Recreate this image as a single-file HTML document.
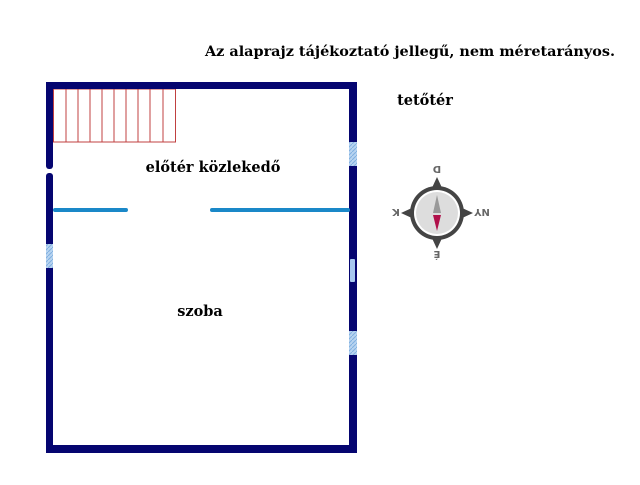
<!DOCTYPE html>
<html><head><style>body{margin:0;background:#fff}</style></head><body>
<svg width="640" height="480" xmlns="http://www.w3.org/2000/svg" font-family="DejaVu Serif, serif" font-weight="bold">
<defs><pattern id="h" width="4" height="4" patternUnits="userSpaceOnUse"><rect width="4" height="4" fill="#b8d4f0"/><path d="M0 4L4 0" stroke="#7fb0e0" stroke-width="1"/></pattern></defs>
<text x="410" y="56" font-size="14" text-anchor="middle" textLength="410" lengthAdjust="spacingAndGlyphs">Az alaprajz tájékoztató jellegű, nem méretarányos.</text>
<text x="425" y="105" font-size="14.5" text-anchor="middle">tetőtér</text>
<text x="213" y="172" font-size="14.5" text-anchor="middle">előtér közlekedő</text>
<text x="200" y="316" font-size="14.5" text-anchor="middle">szoba</text>
<g stroke="#c04040" stroke-width="1" fill="none">
<rect x="53.5" y="89" width="122" height="53"/>
<path d="M66 89V142M78 89V142M90 89V142M102 89V142M114 89V142M126 89V142M138 89V142M150 89V142M163 89V142"/>
</g>
<g fill="#050570">
<rect x="46" y="82" width="311" height="7"/>
<rect x="46" y="82" width="7" height="87" rx="3"/>
<rect x="46" y="173" width="7" height="280" rx="3"/>
<rect x="349" y="82" width="8" height="371"/>
<rect x="46" y="445" width="311" height="8"/>
</g>
<rect x="349" y="142" width="8" height="24" fill="url(#h)"/>
<rect x="46" y="244" width="7" height="24" fill="url(#h)"/>
<rect x="349" y="331" width="8" height="24" fill="url(#h)"/>
<rect x="350" y="259" width="5" height="23" rx="1" fill="#a8c8f0"/>
<g stroke="#1a88c8" stroke-width="4" stroke-linecap="round">
<line x1="55" y1="210" x2="126" y2="210"/><line x1="212" y1="210" x2="348" y2="210"/>
</g>
<g>
<polygon points="437,177 443,190 431,190" fill="#444"/>
<polygon points="437,249 443,236 431,236" fill="#444"/>
<polygon points="401,213 414,207 414,219" fill="#444"/>
<polygon points="473,213 460,207 460,219" fill="#444"/>
<circle cx="437" cy="213" r="27" fill="#444"/>
<circle cx="437" cy="213" r="23" fill="#fff"/>
<circle cx="437" cy="213" r="21" fill="#ddd"/>
<polygon points="437,195 441,213 433,213" fill="#999"/>
<polygon points="437,231 441,215 433,215" fill="#b0104a"/>
<g font-family="DejaVu Sans, sans-serif" font-weight="bold" font-size="10" fill="#666">
<text x="437" y="174" text-anchor="middle" transform="rotate(180 437 170)">D</text>
<text x="437" y="259" text-anchor="middle" transform="rotate(180 437 255)">É</text>
<text x="396" y="217" text-anchor="middle" transform="rotate(180 396 213)">K</text>
<text x="482" y="217" text-anchor="middle" transform="rotate(180 482 213)">NY</text>
</g>
</g>
</svg>
</body></html>
